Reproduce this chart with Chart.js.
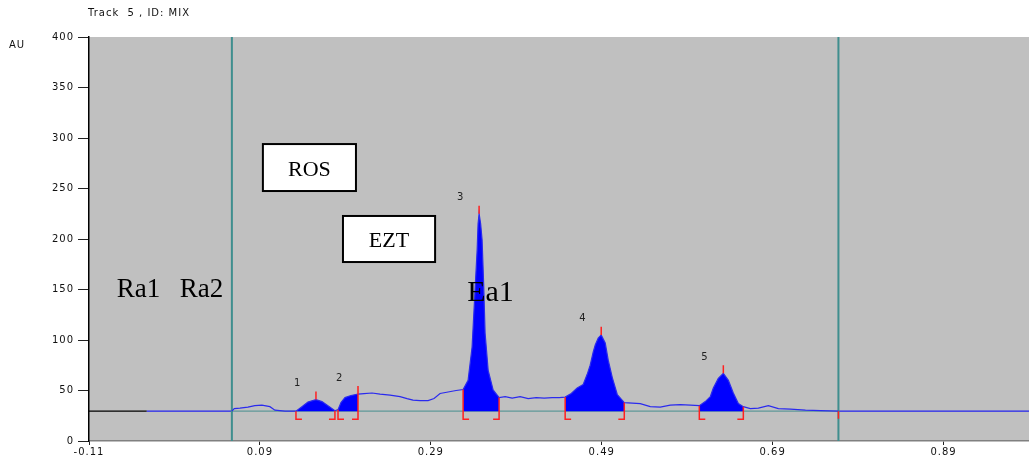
<!DOCTYPE html>
<html>
<head>
<meta charset="utf-8">
<script src="https://cdn.jsdelivr.net/npm/chart.js@4.4.1/dist/chart.umd.min.js"></script>
<style>
  html, body { margin: 0; padding: 0; background: #fff; }
  canvas { display: block; }
</style>
</head>
<body>
<canvas id="myChart" width="1029" height="461"></canvas>
<script>
// axis ticks
const xTicks = [-0.11, 0.09, 0.29, 0.49, 0.69, 0.89];
const yTicks = [0, 50, 100, 150, 200, 250, 300, 350, 400];

// densitogram of track 5 (Rf, AU)
const signalX = [0.0572, 0.0600, 0.0666, 0.0759, 0.0841, 0.0923, 0.1017, 0.1076, 0.1193,
  0.1322, 0.1392, 0.1462, 0.1556, 0.1626, 0.1696, 0.1778,
  0.1814, 0.1849, 0.1896, 0.1966, 0.2048,
  0.2118, 0.2212, 0.2306, 0.2423, 0.2540, 0.2622, 0.2692, 0.2774, 0.2868, 0.2938, 0.3008, 0.3102, 0.3196,
  0.3278, 0.3336, 0.3383, 0.3418, 0.3442, 0.3453, 0.3465, 0.3483, 0.3500, 0.3518, 0.3535, 0.3571, 0.3629, 0.3699,
  0.3770, 0.3852, 0.3945, 0.4039, 0.4133, 0.4227, 0.4320, 0.4402,
  0.4472, 0.4543, 0.4613, 0.4683, 0.4730, 0.4765, 0.4800, 0.4824, 0.4859, 0.4894, 0.4941, 0.4976, 0.5023, 0.5082, 0.5164,
  0.5257, 0.5351, 0.5468, 0.5585, 0.5702, 0.5820, 0.5937,
  0.6042, 0.6112, 0.6171, 0.6206, 0.6264, 0.6323, 0.6382, 0.6440, 0.6499, 0.6557,
  0.6639, 0.6733, 0.6850, 0.6967, 0.7108, 0.7284, 0.7459, 0.7670];
const signalY = [29.5, 32, 32.5, 33.5, 35, 35.5, 34, 30.5, 29.5,
  29.5, 34, 38.5, 41, 39, 35, 30,
  31, 38, 43, 45, 46.5,
  47, 47.5, 46.5, 45.5, 44, 42, 40.5, 40, 40, 42, 47, 48.5, 50,
  51, 60, 93, 150, 189, 215, 225, 215, 199, 156, 107, 70, 50.5, 43,
  44, 42.5, 44, 42, 43, 42.5, 43, 43,
  43.5, 47, 52.5, 56, 66, 75, 88, 95, 102, 105, 97, 80, 63, 46, 38,
  37.5, 37, 34, 33.5, 35.5, 36, 35.5,
  35, 39, 44, 52.5, 62, 67, 60, 47.5, 37, 34,
  32, 32.5, 35, 32, 31.5, 30.5, 30, 29.5];

const baselineAU = 29.5;
const baselineX = [-0.11, -0.0424, 0.0572, 0.767, 0.99];
const trackLimits = [0.0572, 0.767];

// integrated peaks
const peakLabels = ['1', '2', '3', '4', '5'];
const peakStart = [0.1322, 0.1814, 0.3278, 0.4472, 0.6042];
const peakEnd = [0.1778, 0.2048, 0.3699, 0.5164, 0.6557];
const peakApex = [0.1556, 0.2048, 0.3465, 0.4894, 0.6323];

function sig(x) {
  return signalY[signalX.indexOf(x)];
}

const footAU = 21.5;
const footW = 0.007;

// build datasets
const signalPts = signalX.map((x, i) => ({x: x, y: signalY[i]}));

const peakSets = peakLabels.map((n, k) => ({
  label: 'peak ' + n,
  data: signalPts.filter(p => p.x >= peakStart[k] && p.x <= peakEnd[k]),
  showLine: true,
  borderWidth: 0,
  borderColor: '#0000ff',
  backgroundColor: '#0000ff',
  fill: {value: baselineAU},
  pointRadius: 0,
  order: 3
}));

const redPts = [];
peakLabels.forEach((n, k) => {
  const a = peakApex[k], s = peakStart[k], e = peakEnd[k];
  redPts.push({x: a, y: sig(a)}, {x: a, y: sig(a) + 8}, {x: a, y: null});
  redPts.push({x: s, y: sig(s)}, {x: s, y: footAU}, {x: s + footW, y: footAU}, {x: s, y: null});
  redPts.push({x: e, y: sig(e)}, {x: e, y: footAU}, {x: e - footW, y: footAU}, {x: e, y: null});
});
redPts.push({x: trackLimits[1], y: baselineAU}, {x: trackLimits[1], y: 22});

const trackPts = [];
trackLimits.forEach(x => {
  trackPts.push({x: x, y: 0}, {x: x, y: 400}, {x: x, y: null});
});

const baseColors = ['#000000', '#2222ee', '#5f9898', '#2222ee'];

const ctx = document.getElementById('myChart');

const paperPlugin = {
  id: 'paper',
  beforeDraw(chart) {
    const c = chart.ctx, a = chart.chartArea;
    c.save();
    c.fillStyle = '#c0c0c0';
    c.fillRect(a.left, a.top, a.right - a.left, a.bottom - a.top);
    c.restore();
    c.letterSpacing = '1px';
  },
  afterDraw(chart) {
    const c = chart.ctx;
    const x = chart.scales.x, y = chart.scales.y;
    c.save();
    c.letterSpacing = '1px';
    c.fillStyle = '#111';
    c.font = '10px "DejaVu Sans"';
    c.textBaseline = 'middle';
    c.textAlign = 'left';
    c.fillText('Track  5 , ID: MIX', 88, 13);
    c.fillText('AU', 9, 45);

    // peak numbers
    c.font = '10px "DejaVu Sans"';
    c.fillStyle = '#222';
    peakLabels.forEach((n, k) => {
      const px = x.getPixelForValue(peakApex[k]) - 19;
      const py = y.getPixelForValue(sig(peakApex[k]) + 8) - 8;
      c.fillText(n, px - 3, py);
    });
    c.letterSpacing = '0px';

    // boxed labels
    const boxes = [
      {t: 'ROS', x0: 0.0935, x1: 0.2024, y0: 294, y1: 247.5},
      {t: 'EZT', x0: 0.1872, x1: 0.2950, y0: 222.8, y1: 177.2}
    ];
    c.font = '22px "Liberation Serif"';
    c.textAlign = 'center';
    boxes.forEach(b => {
      const l = x.getPixelForValue(b.x0), r = x.getPixelForValue(b.x1);
      const t = y.getPixelForValue(b.y0), btm = y.getPixelForValue(b.y1);
      c.fillStyle = '#fff';
      c.fillRect(l, t, r - l, btm - t);
      c.lineWidth = 2;
      c.strokeStyle = '#000';
      c.strokeRect(l, t, r - l, btm - t);
      c.fillStyle = '#000';
      c.textBaseline = 'alphabetic';
      c.fillText(b.t, (l + r) / 2, btm - 15);
    });

    // free labels
    c.textAlign = 'left';
    c.textBaseline = 'alphabetic';
    c.fillStyle = '#000';
    c.font = '27px "Liberation Serif"';
    c.fillText('Ra1', x.getPixelForValue(-0.0774), y.getPixelForValue(142.6));
    c.fillText('Ra2', x.getPixelForValue(-0.0037), y.getPixelForValue(142.6));
    c.font = '30px "Liberation Serif"';
    c.fillText('Ea1', x.getPixelForValue(0.3325), y.getPixelForValue(138.6));
    c.restore();
  }
};

const chart = new Chart(ctx, {
  type: 'scatter',
  data: {
    datasets: [
      {
        label: 'integration marks',
        data: redPts,
        showLine: true,
        borderColor: '#ff2020',
        borderWidth: 1.5,
        pointRadius: 0,
        spanGaps: false,
        order: 0
      },
      {
        label: 'signal',
        data: signalPts,
        showLine: true,
        borderColor: '#2a2aee',
        borderWidth: 1.2,
        pointRadius: 0,
        order: 1
      },
      ...peakSets,
      {
        label: 'baseline',
        data: baselineX.map(x => ({x: x, y: baselineAU})),
        showLine: true,
        borderWidth: 1.2,
        borderColor: '#2222ee',
        segment: {
          borderColor: c => baseColors[c.p0DataIndex]
        },
        pointRadius: 0,
        order: 4
      },
      {
        label: 'track limits',
        data: trackPts,
        showLine: true,
        borderColor: '#3f8e8e',
        borderWidth: 2,
        pointRadius: 0,
        spanGaps: false,
        order: 2
      }
    ]
  },
  options: {
    responsive: false,
    animation: false,
    layout: {padding: {top: 37, left: 0, right: 0, bottom: 0}},
    plugins: {
      legend: {display: false},
      tooltip: {enabled: false},
      title: {display: false}
    },
    scales: {
      x: {
        type: 'linear',
        min: -0.11,
        max: 0.99,
        afterBuildTicks: s => { s.ticks = xTicks.map(v => ({value: v})); },
        afterFit: s => { s.height = 20; },
        ticks: {
          callback: v => v.toFixed(2),
          color: '#111',
          font: {family: 'DejaVu Sans', size: 10},
          padding: 1,
          maxRotation: 0,
          autoSkip: false
        },
        grid: {drawOnChartArea: false, drawTicks: true, tickLength: 4, color: '#222'},
        border: {color: '#808080', width: 1.5}
      },
      y: {
        min: 0,
        max: 400,
        afterBuildTicks: s => { s.ticks = yTicks.map(v => ({value: v})); },
        afterFit: s => { s.width = 89; },
        ticks: {
          color: '#111',
          font: {family: 'DejaVu Sans', size: 10},
          padding: 4
        },
        grid: {drawOnChartArea: false, drawTicks: true, tickLength: 11, color: '#222'},
        border: {color: '#000', width: 1.5}
      }
    }
  },
  plugins: [paperPlugin]
});
</script>
</body>
</html>
